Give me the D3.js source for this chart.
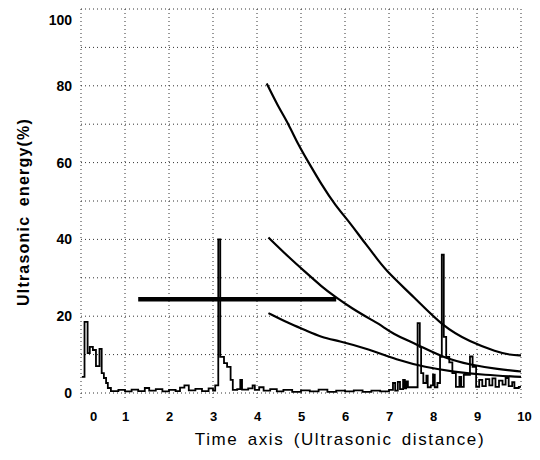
<!DOCTYPE html>
<html>
<head>
<meta charset="utf-8">
<script src="https://cdn.jsdelivr.net/npm/d3@7"></script>
<style>
    html, body { margin: 0; padding: 0; background: #fff; }
    svg { display: block; }
</style>
</head>
<body>
<svg id="chart" width="540" height="460"></svg>
<script>
// axis ticks
const xGridValues = [0, 1, 2, 3, 4, 5, 6, 7, 8, 9, 10];
const yGridValues = [0, 10, 20, 30, 40, 50, 60, 70, 80, 90, 100];
const yLabelValues = [0, 20, 40, 60, 80, 100];

// distance-amplitude curves
const curveTopX = [4.22, 4.48, 4.71, 4.94, 5.17, 5.47, 5.77, 6.15, 6.38, 6.61, 6.91, 7.57, 8.23, 8.84, 9.45, 9.75, 10.0];
const curveTopY = [80.6, 74.6, 70.2, 64.6, 60.1, 54.2, 49.0, 43.8, 40.1, 36.8, 32.0, 25.0, 17.2, 13.3, 10.7, 9.9, 9.8];
const curveMidX = [4.26, 4.71, 5.09, 5.47, 5.77, 6.15, 6.61, 6.87, 7.05, 7.66, 8.25, 8.86, 9.48, 10.0];
const curveMidY = [40.5, 35.5, 31.6, 27.7, 25.1, 22.1, 19.0, 17.3, 15.6, 12.5, 9.1, 7.3, 6.2, 5.6];
const curveLowX = [4.26, 4.71, 5.09, 5.47, 5.84, 6.52, 7.27, 7.80, 8.48, 9.16, 10.0];
const curveLowY = [20.8, 18.2, 16.4, 14.5, 13.6, 11.5, 8.3, 6.8, 5.5, 4.7, 4.2];

// gate
const gateX = [1.30, 5.80];
const gateLevel = 24.4;

// A-scan signal (step values)
const signalX = [0.02, 0.08, 0.15, 0.20, 0.27, 0.34, 0.42, 0.47, 0.52, 0.57, 0.61, 0.68,
    0.85, 1.00, 1.15, 1.30, 1.45, 1.55, 1.70, 1.85, 2.00, 2.15, 2.25, 2.35, 2.45, 2.60, 2.75, 2.90, 3.00, 3.05,
    3.12, 3.165, 3.25, 3.32, 3.40, 3.45, 3.55, 3.62, 3.66, 3.80, 3.90, 3.95, 4.05, 4.15,
    4.30, 4.45, 4.60, 4.80, 5.00, 5.20, 5.40, 5.60, 5.80, 6.00, 6.20, 6.40, 6.60, 6.80, 7.00,
    7.09, 7.14, 7.20, 7.25, 7.32, 7.36, 7.39, 7.43, 7.55, 7.65, 7.70, 7.73, 7.78,
    7.85, 7.88, 7.95, 8.00, 8.04, 8.10, 8.16, 8.20, 8.245, 8.30, 8.37, 8.44, 8.52, 8.60, 8.64, 8.70,
    8.84, 8.90, 8.98, 9.05, 9.12, 9.20, 9.28, 9.35, 9.42, 9.50, 9.58, 9.65, 9.72, 9.80, 9.85, 9.95, 10.0];
const signalY = [4.2, 18.5, 10.4, 12.0, 11.2, 7.0, 11.5, 5.2, 3.9, 2.6, 1.3, 0.5,
    0.8, 0.4, 0.9, 0.5, 1.3, 0.6, 1.0, 0.4, 0.8, 0.5, 1.4, 2.0, 0.7, 1.1, 0.5, 1.2, 0.6, 2.0,
    40.0, 9.4, 7.8, 6.8, 3.4, 0.8, 1.0, 3.4, 0.9, 1.2, 2.0, 0.8, 1.5, 0.6,
    1.0, 0.4, 0.8, 0.3, 0.7, 0.4, 0.9, 0.3, 0.6, 0.4, 0.7, 0.3, 0.6, 0.4, 0.8,
    2.6, 0.6, 2.9, 1.0, 3.4, 1.2, 3.0, 1.5, 1.5, 18.2, 12.0, 5.2, 2.6,
    4.5, 1.5, 2.0, 4.8, 1.5, 2.6, 9.4, 36.0, 14.6, 9.4, 8.0, 5.2, 1.6, 4.2, 1.6, 4.7,
    9.5, 6.8, 1.6, 3.4, 1.8, 3.6, 2.0, 3.8, 1.6, 3.2, 2.2, 3.9, 1.8, 2.8, 1.3, 1.6, 1.6];

const totalWidth = 540;
const totalHeight = 460;
const margin = { top: 9, right: 19, bottom: 67, left: 81 };
const chartWidth = totalWidth - margin.left - margin.right;
const chartHeight = totalHeight - margin.top - margin.bottom;

const labelFont = '"Liberation Sans Narrow", "Arial Narrow", "Liberation Sans", Arial, sans-serif';
const titleFont = '"Liberation Sans", Arial, sans-serif';

const x = d3.scaleLinear().domain([0, 10]).range([0, chartWidth]);
const y = d3.scaleLinear().domain([0, 100]).range([chartHeight, 0]);

const svg = d3.select('#chart');
const gChart = svg.append('g')
    .attr('transform', 'translate(' + margin.left + ',' + margin.top + ')');

// dotted grid
gChart.append('g').selectAll('line')
    .data(yGridValues)
    .enter().append('line')
    .attr('x1', 0).attr('x2', chartWidth)
    .attr('y1', d => y(d)).attr('y2', d => y(d))
    .attr('stroke', '#333')
    .attr('stroke-width', 1)
    .attr('stroke-dasharray', '1,3');

gChart.append('g').selectAll('line')
    .data(xGridValues)
    .enter().append('line')
    .attr('x1', d => x(d)).attr('x2', d => x(d))
    .attr('y1', y(100)).attr('y2', chartHeight + 5)
    .attr('stroke', '#333')
    .attr('stroke-width', 1)
    .attr('stroke-dasharray', '1,3');

// axes labels
const yAxis = d3.axisLeft(y).tickValues(yLabelValues).tickSize(0).tickPadding(9);
const gAxisY = gChart.append('g').call(yAxis);
gAxisY.select('.domain').remove();
gAxisY.selectAll('text')
    .attr('font-family', labelFont)
    .attr('font-weight', 'bold')
    .attr('font-size', 14)
    .attr('fill', '#000');
// the "100" label sits below its grid line in the original
gAxisY.selectAll('.tick').filter(d => d === 100).select('text').attr('dy', '1.1em');

const xAxis = d3.axisBottom(x).tickValues(xGridValues).tickSize(0).tickPadding(19);
const gAxisX = gChart.append('g')
    .attr('transform', 'translate(0,' + chartHeight + ')')
    .call(xAxis);
gAxisX.select('.domain').remove();
gAxisX.selectAll('text')
    .attr('font-family', labelFont)
    .attr('font-weight', 'bold')
    .attr('font-size', 13)
    .attr('fill', '#000');
// the "0" label is printed a bit right of its line
gAxisX.selectAll('.tick').filter(d => d === 0).select('text').attr('dx', 12);
gAxisX.selectAll('.tick').filter(d => d === 10).select('text').attr('dx', 3);

// titles
svg.append('text')
    .attr('transform', 'translate(23,' + 212 + ') rotate(-90)')
    .attr('text-anchor', 'middle')
    .attr('dominant-baseline', 'central')
    .attr('font-family', titleFont)
    .attr('font-weight', 'bold')
    .attr('font-size', 16)
    .attr('letter-spacing', 1.2)
    .attr('word-spacing', 4)
    .text('Ultrasonic energy(%)');

svg.append('text')
    .attr('x', 340)
    .attr('y', 439)
    .attr('text-anchor', 'middle')
    .attr('dominant-baseline', 'central')
    .attr('font-family', titleFont)
    .attr('font-size', 17)
    .attr('letter-spacing', 1.6)
    .attr('word-spacing', 3)
    .text('Time axis (Ultrasonic distance)');

// A-scan signal
const signalLine = d3.line()
    .x(d => x(d[0]))
    .y(d => y(d[1]))
    .curve(d3.curveStepAfter);
gChart.append('path')
    .datum(d3.zip(signalX, signalY))
    .attr('d', signalLine)
    .attr('fill', 'none')
    .attr('stroke', '#000')
    .attr('stroke-width', 1.8);

// gate
gChart.append('line')
    .attr('x1', x(gateX[0])).attr('x2', x(gateX[1]))
    .attr('y1', y(gateLevel)).attr('y2', y(gateLevel))
    .attr('stroke', '#000')
    .attr('stroke-width', 4.5);

// DAC curves
const curveLine = d3.line()
    .x(d => x(d[0]))
    .y(d => y(d[1]))
    .curve(d3.curveBasis);
[[curveTopX, curveTopY], [curveMidX, curveMidY], [curveLowX, curveLowY]].forEach(([cx, cy]) => {
    gChart.append('path')
        .datum(d3.zip(cx, cy))
        .attr('d', curveLine)
        .attr('fill', 'none')
        .attr('stroke', '#000')
        .attr('stroke-width', 2.2);
});
</script>
</body>
</html>
